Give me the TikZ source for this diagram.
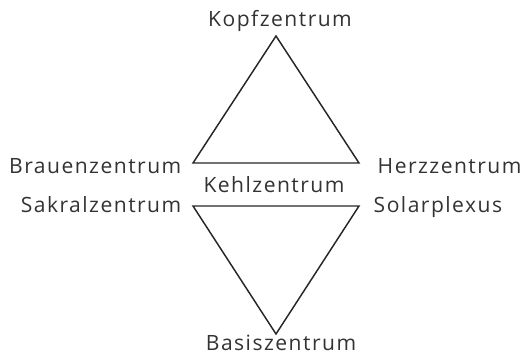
\documentclass[tikz,border=0pt]{standalone}
\usepackage{fontspec}
\setmainfont{Open Sans}
\newfontfamily\chakrafont[LetterSpace=7]{Open Sans}
\usetikzlibrary{positioning}

\begin{document}
\begin{tikzpicture}[x=0.75pt, y=-0.75pt, line width=1.1pt, line join=miter,
    chakra/.style={font=\chakrafont\fontsize{15.8}{18}\selectfont, text=black!80, inner sep=0pt}]
    % Frame, pixel grid 525 x 354
    \useasboundingbox (0,0) rectangle (525,354);
    % Corners of the two triangles
    \coordinate (top)  at (276, 36);
    \coordinate (ul)   at (193,163);
    \coordinate (ur)   at (359,163);
    \coordinate (ll)   at (193,206);
    \coordinate (lr)   at (359,206);
    \coordinate (bot)  at (276,334);
    % Upper and lower triangle
    \draw[black!85] (top) -- (ul) -- (ur) -- cycle;
    \draw[black!85] (ll) -- (lr) -- (bot) -- cycle;
    % Labels
    \node[chakra, anchor=base]      (kopf)  at (280, 26) {Kopfzentrum};
    \node[chakra, anchor=base east] (braue) at (182,173) {Brauenzentrum};
    \node[chakra, anchor=base west] (herz)  at (377,173) {Herzzentrum};
    \node[chakra, anchor=base]      (kehl)  at (274,192) {Kehlzentrum};
    \node[chakra, anchor=base east] (sakr)  at (182,212) {Sakralzentrum};
    \node[chakra, anchor=base west] (solar) at (373,212) {Solarplexus};
    \node[chakra, anchor=base]      (basis) at (281,350) {Basiszentrum};
\end{tikzpicture}
\end{document}
